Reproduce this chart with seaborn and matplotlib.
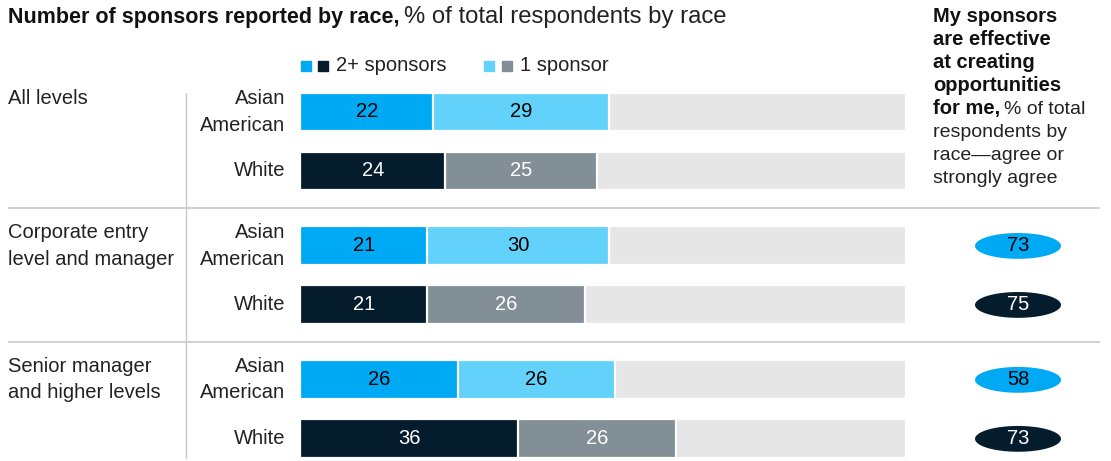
import numpy as np
import pandas as pd
import matplotlib
matplotlib.use("Agg")
import matplotlib.pyplot as plt
import seaborn as sns
from matplotlib.path import Path
from matplotlib.patches import Rectangle
from matplotlib.transforms import blended_transform_factory

# ---------------- data ----------------
groups = ["All levels", "Corporate entry\nlevel and manager", "Senior manager\nand higher levels"]
races = ["Asian American", "White"]
race_labels = ["Asian\nAmerican", "White"]
two_plus = [22, 24, 21, 21, 26, 36]
one_sponsor = [29, 25, 30, 26, 26, 26]
effective = [None, None, 73, 75, 58, 73]

# ---------------- styles ----------------
sns.set_theme(style="white")
plt.rcParams["font.family"] = ["Liberation Sans", "DejaVu Sans"]

C_AA2 = "#00A9F4"
C_AA1 = "#62D2FA"
C_W2 = "#051C2C"
C_W1 = "#838F97"
C_BG = "#E6E6E6"
C_LINE = "#C8C8C8"
C_TXT = "#222222"
FS = 14.5
LS = 1.48

W, H = 1111, 461
fig = plt.figure(figsize=(W / 100, H / 100), dpi=100)

GAP = 0.27
rows = []
for gi, g in enumerate(groups):
    for ri, r in enumerate(races):
        rows.append(dict(group=g, race=r, pos=gi * (2 + GAP) + ri))
df = pd.DataFrame(rows)
df["two_plus"] = two_plus
df["one"] = one_sponsor
df["total"] = df["two_plus"] + df["one"]
df["full"] = 100
df["effective"] = effective

# row pitch in pixels and first row center in pixels (layout)
PITCH, Y0 = 59.0, 112.0
ylim = ((H - Y0) / PITCH, -Y0 / PITCH)

x0px, x1px = 300, 906
ax = fig.add_axes([x0px / W, 0, (x1px - x0px) / W, 1])
BH = 0.66
common = dict(y="pos", orient="y", native_scale=True, width=BH, errorbar=None,
              edgecolor="white", linewidth=1.6, saturation=1, ax=ax)
sns.barplot(data=df, x="full", color=C_BG, **common)
sns.barplot(data=df, x="total", hue="race", palette={"Asian American": C_AA1, "White": C_W1},
            dodge=False, legend=False, **common)
sns.barplot(data=df, x="two_plus", hue="race", palette={"Asian American": C_AA2, "White": C_W2},
            dodge=False, legend=False, **common)
ax.set_xlim(0, 100)
ax.set_ylim(*ylim)
ax.axis("off")

for _, r in df.iterrows():
    tc = "black" if r["race"] == "Asian American" else "white"
    ax.text(r["two_plus"] / 2, r["pos"], f"{r['two_plus']}", ha="center", va="center",
            fontsize=FS, color=tc)
    ax.text(r["two_plus"] + r["one"] / 2, r["pos"], f"{r['one']}", ha="center", va="center",
            fontsize=FS, color=tc)

# left labels
bt = blended_transform_factory(fig.transFigure, ax.transData)
for _, r in df.iterrows():
    lab = race_labels[races.index(r["race"])]
    ax.text(285 / W, r["pos"], lab, transform=bt, ha="right", va="center",
            fontsize=FS, color=C_TXT, linespacing=LS)
for gi, g in enumerate(groups):
    p = df[df["group"] == g]["pos"].iloc[0]
    txt = g if "\n" in g else g + "\n "
    ax.text(8 / W, p, txt, transform=bt, ha="left", va="center",
            fontsize=FS, color=C_TXT, linespacing=LS)

# separators
for gi in range(1, len(groups)):
    p = (df["pos"].iloc[2 * gi - 1] + df["pos"].iloc[2 * gi]) / 2
    ax.plot([8 / W, 1100 / W], [p, p], transform=bt, color=C_LINE, lw=1.2,
            clip_on=False, solid_capstyle="butt")
ax.plot([186 / W, 186 / W], [df["pos"].iloc[0] - BH / 2, df["pos"].iloc[-1] + BH / 2],
        transform=bt, color=C_LINE, lw=1.0, clip_on=False)

# right column ellipses
ax2 = fig.add_axes([930 / W, 0, 176 / W, 1], sharey=ax)
ax2.set_xlim(0, 1)
ax2.axis("off")
t = np.linspace(0, 2 * np.pi, 100)
ell = Path(np.column_stack([np.cos(t), np.sin(t) * 0.30]), closed=True)
eff = df.dropna(subset=["effective"])
ecol = [C_AA2 if r == "Asian American" else C_W2 for r in eff["race"]]
ax2.scatter(np.full(len(eff), 0.5), eff["pos"], marker=ell, s=(86 * 0.72) ** 2,
            c=ecol, linewidths=0)
for _, r in eff.iterrows():
    tc = "black" if r["race"] == "Asian American" else "white"
    ax2.text(0.5, r["pos"], f"{int(r['effective'])}", ha="center", va="center",
             fontsize=FS, color=tc)
ax2.set_ylim(*ylim)

# title
def fy(px):
    return 1 - px / H

t1 = fig.text(8 / W, fy(23), "Number of sponsors reported by race,", fontsize=15.5,
              fontweight="bold", color="#111111", va="baseline")
fig.canvas.draw()
bb = t1.get_window_extent()
fig.text(bb.x1 / W + 5 / W, fy(23), "% of total respondents by race", fontsize=17.2,
         color=C_TXT, va="baseline")

# right heading
bold_lines = ["My sponsors", "are effective", "at creating", "opportunities", "for me,"]
reg_lines = ["respondents by", "race\u2014agree or", "strongly agree"]
for i, ln in enumerate(bold_lines):
    tt = fig.text(933 / W, fy(22 + 23 * i), ln, fontsize=14.5, fontweight="bold",
                  color="#111111", va="baseline")
fig.canvas.draw()
bb = tt.get_window_extent()
fig.text(bb.x1 / W + 4 / W, fy(22 + 23 * 4), "% of total", fontsize=14,
         color=C_TXT, va="baseline")
for i, ln in enumerate(reg_lines):
    fig.text(933 / W, fy(22 + 23 * (5 + i)), ln, fontsize=14, color=C_TXT, va="baseline")

# legend
leg = [((301, C_AA2), (318, C_W2), 336, "2+ sponsors"),
       ((484, C_AA1), (502, C_W1), 520, "1 sponsor")]
for (xa, ca), (xb, cb), xt, lab in leg:
    for xx, cc in ((xa, ca), (xb, cb)):
        fig.patches.append(Rectangle((xx / W, fy(71)), 10 / W, 10 / H,
                                     transform=fig.transFigure, color=cc))
    fig.text(xt / W, fy(71), lab, fontsize=FS, color=C_TXT, va="baseline")

fig.savefig("out.png", dpi=100)
